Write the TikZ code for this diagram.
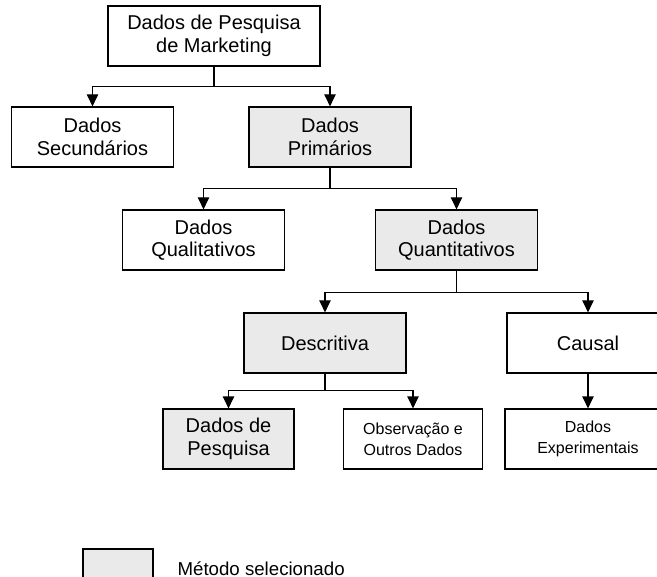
\documentclass[tikz,border=0pt]{standalone}
\usepackage{fontspec}
\setmainfont{Liberation Sans}
\usetikzlibrary{calc}
\usetikzlibrary{arrows.meta}
\definecolor{cinza}{RGB}{234,234,234}
\newcommand{\largura}{121.5pt}
\newcommand{\altura}{45pt}

\begin{document}
\begin{tikzpicture}[x=.75pt,y=-.75pt,line width=.9pt]
\tikzstyle{caixa}=[draw, rectangle, align=center, minimum width=\largura, minimum height=\altura, inner sep=2pt, font=\fontsize{15}{17}\selectfont]
\tikzstyle{escolhido}=[caixa, fill=cinza]
\tikzstyle{pequena}=[font=\fontsize{12}{15.75}\selectfont]
\tikzstyle{seta}=[-{Triangle[length=9pt,width=8.5pt]}]
\useasboundingbox (0,0) rectangle (657,577);
\clip (0,0) rectangle (657,577);

% nivel 1
\node (marketing) at (214,36) [caixa, minimum width=159pt] {Dados de Pesquisa\\de Marketing};

% nivel 2
\node (secundarios) at (92.5,137) [caixa] {Dados\\Secundários};
\node (primarios) at (330,137) [escolhido] {Dados\\Primários};
\coordinate (j1) at ($(marketing.south)+(0,20)$);
\draw (marketing.south) -- (j1);
\draw[seta] (j1) -| (secundarios.north);
\draw[seta] (j1) -| (primarios.north);

% nivel 3
\node (qualitativos) at (203.5,240) [caixa] {Dados\\Qualitativos};
\node (quantitativos) at (456.5,240) [escolhido] {Dados\\Quantitativos};
\coordinate (j2) at ($(primarios.south)+(0,21)$);
\draw (primarios.south) -- (j2);
\draw[seta] (j2) -| (qualitativos.north);
\draw[seta] (j2) -| (quantitativos.north);

% nivel 4
\node (descritiva) at (325,343) [escolhido] {Descritiva};
\node (causal) at (588,343) [caixa] {Causal};
\coordinate (j3) at ($(quantitativos.south)+(0,22)$);
\draw (quantitativos.south) -- (j3);
\draw[seta] (j3) -| (descritiva.north);
\draw[seta] (j3) -| (causal.north);

% nivel 5
\node (survey) at (228.5,439) [escolhido, minimum width=98.25pt] {Dados de\\Pesquisa};
\node (observacao) at (413,439) [caixa, pequena, minimum width=104.25pt] {Observação e\\Outros Dados};
\node (experimentais) at (588,439) [caixa, pequena, minimum width=124.5pt] {Dados\\Experimentais};
\coordinate (j4) at ($(descritiva.south)+(0,17)$);
\draw (descritiva.south) -- (j4);
\draw[seta] (j4) -| (survey.north);
\draw[seta] (j4) -| (observacao.north);
\draw[seta] (causal.south) -- (experimentais.north);

% legenda
\node (legenda) at (118,569.5) [draw, fill=cinza, minimum width=52.5pt, minimum height=30.75pt] {};
\node (textolegenda) at (177,575) [anchor=base west, inner sep=0pt, font=\fontsize{14}{16}\selectfont] {Método selecionado};

\end{tikzpicture}
\end{document}
